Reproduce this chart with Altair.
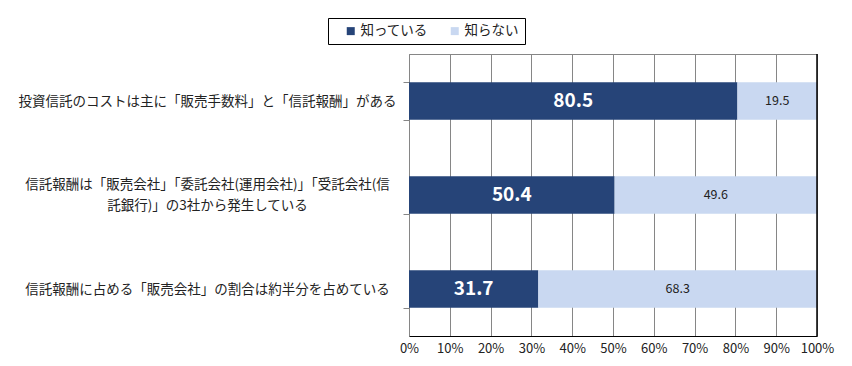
import altair as alt
import pandas as pd

questions = [
    "投資信託のコストは主に「販売手数料」と「信託報酬」がある",
    "信託報酬は「販売会社」「委託会社(運用会社)」「受託会社(信\n託銀行)」の3社から発生している",
    "信託報酬に占める「販売会社」の割合は約半分を占めている",
]
series = ["知っている", "知らない"]
know = [80.5, 50.4, 31.7]
dont_know = [19.5, 49.6, 68.3]
x_ticks = [0, 10, 20, 30, 40, 50, 60, 70, 80, 90, 100]
colors = ["#264478", "#C9D8F1"]

rows = []
for q, a, b in zip(questions, know, dont_know):
    rows.append({"q": q, "s": series[0], "v": a, "o": 0})
    rows.append({"q": q, "s": series[1], "v": b, "o": 1})
df = pd.DataFrame(rows)

FONT = "Noto Sans CJK JP"

base = alt.Chart(df).transform_stack(
    stack="v", groupby=["q"], as_=["x0", "x1"], sort=[alt.SortField("o")]
).transform_calculate(mid="(datum.x0 + datum.x1) / 2")

yenc = alt.Y(
    "q:N",
    sort=questions,
    title=None,
    scale=alt.Scale(paddingInner=0.6, paddingOuter=0.3),
    axis=alt.Axis(
        domainColor="#868686",
        tickColor="#868686",
        tickSize=6,
        tickBand="extent",
        labelAlign="center",
        labelPadding=196,
        labelFontSize=13.5,
        labelFont=FONT,
        labelColor="#222222",
        labelLimit=0,
        labelLineHeight=21,
        labelExpr="split(datum.label, '\\n')",
        labelOffset={"condition": {"test": "length(split(datum.value, '\\n')) > 1", "value": -11}, "value": 0},
    ),
)

xscale = alt.Scale(domain=[0, 100], nice=False)

bars = base.mark_bar().encode(
    x=alt.X(
        "x0:Q",
        scale=xscale,
        title=None,
        axis=alt.Axis(
            values=x_ticks,
            labelExpr="datum.value + '%'",
            labelOverlap=False,
            labelFlush=False,
            grid=True,
            gridColor="#868686",
            gridOpacity=1,
            domainColor="#000000",
            ticks=False,
            labelPadding=6,
            labelFontSize=13,
            labelFont=FONT,
            labelColor="#222222",
        ),
    ),
    x2="x1:Q",
    y=yenc,
    color=alt.Color(
        "s:N",
        sort=series,
        scale=alt.Scale(domain=series, range=colors),
        legend=alt.Legend(
            title=None,
            orient="none",
            legendX=-81,
            legendY=-36,
            direction="horizontal",
            strokeColor="#000000",
            padding=6,
            symbolType="square",
            symbolSize=64,
            symbolStrokeWidth=0,
            symbolOffset=10,
            labelFontSize=13.5,
            labelFont=FONT,
            labelColor="#222222",
            columnPadding=10,
            labelOffset=3,
        ),
    ),
)

text_dark = base.transform_filter(alt.datum.o == 0).mark_text(
    color="white", fontWeight="bold", fontSize=19, font=FONT
).encode(x=alt.X("mid:Q", scale=xscale), y=alt.Y("q:N", sort=questions), text=alt.Text("v:Q", format=".1f"))

text_light = base.transform_filter(alt.datum.o == 1).mark_text(
    color="#222222", fontSize=12.5, font=FONT
).encode(x=alt.X("mid:Q", scale=xscale), y=alt.Y("q:N", sort=questions), text=alt.Text("v:Q", format=".1f"))

border = alt.Chart(pd.DataFrame({"x": [100]})).mark_rule(color="#000000", strokeWidth=1.5).encode(
    x=alt.X("x:Q", scale=xscale)
)

chart = alt.layer(bars, text_dark, text_light, border).properties(
    width=408,
    height=282,
    padding={"left": 401, "top": 46, "right": 27, "bottom": 22},
    autosize=alt.AutoSizeParams(type="none"),
    background="white",
).configure_view(stroke="#868686", strokeWidth=1)

chart.save("out.html", embed_options={"renderer": "svg", "actions": False})
